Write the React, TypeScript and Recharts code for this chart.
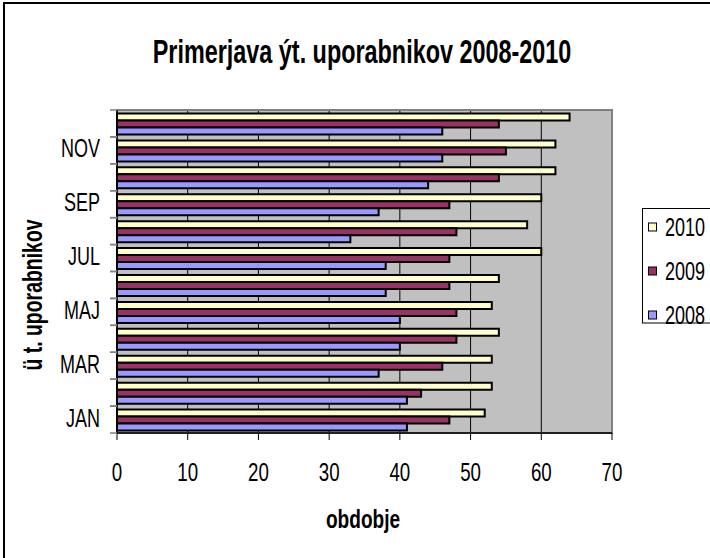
import React from 'react';
import { BarChart, Bar, XAxis, YAxis, CartesianGrid, ReferenceArea } from 'recharts';

const MONTHS = ['JAN', 'FEB', 'MAR', 'APR', 'MAJ', 'JUN', 'JUL', 'AVG', 'SEP', 'OKT', 'NOV', 'DEC'];
const Y2008 = [41, 41, 37, 40, 40, 38, 38, 33, 37, 44, 46, 46];
const Y2009 = [47, 43, 46, 48, 48, 47, 47, 48, 47, 54, 55, 54];
const Y2010 = [52, 53, 53, 54, 53, 54, 60, 58, 60, 62, 62, 64];
const YEARS = ['2010', '2009', '2008'];
const X_TICKS = [0, 10, 20, 30, 40, 50, 60, 70];
const TITLE = 'Primerjava ýt. uporabnikov 2008-2010';
const X_TITLE = 'obdobje';
const Y_TITLE = 'ü t. uporabnikov';

const COLORS: Record<string, string> = { '2010': '#FFFFCC', '2009': '#993366', '2008': '#9999FF' };

const data = MONTHS.map((month, i) => ({
  month,
  '2008': Y2008[i],
  '2009': Y2009[i],
  '2010': Y2010[i],
}));

const W = 710;
const H = 558;
const PLOT_H = 323;
const BAND = PLOT_H / MONTHS.length;
const SQ = 0.72; // the source font is strongly condensed
const FONT = '"Liberation Sans", Arial, sans-serif';

function Sq({ x, y, size, bold = false, anchor = 'middle', rotate = 0, children }: any) {
  return (
    <text
      transform={`translate(${x},${y}) rotate(${rotate}) scale(${SQ},1)`}
      fontFamily={FONT}
      fontSize={size}
      fontWeight={bold ? 'bold' : 'normal'}
      textAnchor={anchor}
      fill="#000"
    >
      {children}
    </text>
  );
}

function YTick(props: any) {
  const { x, y, payload } = props;
  const show = MONTHS.indexOf(payload.value) % 2 === 0;
  return (
    <g>
      <line x1={x} x2={x + 7} y1={y - BAND / 2} y2={y - BAND / 2} stroke="#808080" strokeWidth={1.5} />
      <line x1={x} x2={x + 7} y1={y + BAND / 2} y2={y + BAND / 2} stroke="#808080" strokeWidth={1.5} />
      {show && <Sq x={x - 10} y={y + 7} size={25} anchor="end">{payload.value}</Sq>}
    </g>
  );
}

function XTick(props: any) {
  const { x, y, payload } = props;
  return <Sq x={x} y={y + 41} size={26}>{payload.value}</Sq>;
}

export default function App() {
  return (
    <div style={{ position: 'absolute', left: 0, top: 0, width: W, height: H, overflow: 'hidden', background: '#fff' }}>
      <div
        style={{
          position: 'absolute',
          left: 3,
          top: 2,
          width: W,
          height: H,
          borderLeft: '2px solid #000',
          borderTop: '2px solid #000',
        }}
      />
      <div style={{ position: 'absolute', left: 0, top: 0 }}>
        <BarChart
          width={W}
          height={H}
          data={data}
          layout="vertical"
          margin={{ top: 110, right: 98, bottom: 65, left: 17 }}
          barCategoryGap="13%"
          barGap={0}
        >
          <CartesianGrid horizontal={false} stroke="#000" strokeWidth={1} fill="#C0C0C0" fillOpacity={1} />
          <ReferenceArea x1={0} x2={70} fill="none" stroke="#808080" strokeWidth={2} />
          <XAxis
            type="number"
            domain={[0, 70]}
            ticks={X_TICKS}
            height={60}
            tickSize={7}
            tickMargin={0}
            axisLine={{ stroke: '#000', strokeWidth: 1.5 }}
            tickLine={{ stroke: '#000' }}
            tick={<XTick />}
          />
          <YAxis
            type="category"
            dataKey="month"
            reversed
            width={100}
            interval={0}
            tickSize={7}
            tickMargin={0}
            axisLine={{ stroke: '#000', strokeWidth: 1.5 }}
            tickLine={false}
            tick={<YTick />}
          />
          {YEARS.map(year => (
            <Bar
              key={year}
              dataKey={year}
              fill={COLORS[year]}
              stroke="#000"
              strokeWidth={2}
              isAnimationActive={false}
            />
          ))}
        </BarChart>
      </div>
      <svg width={W} height={H} style={{ position: 'absolute', left: 0, top: 0, pointerEvents: 'none' }}>
        <Sq x={362} y={63} size={32.5} bold>{TITLE}</Sq>
        <Sq x={363} y={528} size={26.5} bold>{X_TITLE}</Sq>
        <Sq x={42} y={295} size={27} bold rotate={-90}>{Y_TITLE}</Sq>
        <rect x={642.5} y={208.5} width={100} height={114.5} fill="#fff" stroke="#000" strokeWidth={1} />
        {YEARS.map((year, i) => (
          <g key={year}>
            <rect x={648.5} y={223 + i * 44} width={8} height={8} fill={COLORS[year]} stroke="#000" strokeWidth={1} />
            <Sq x={665} y={236 + i * 44} size={25} anchor="start">{year}</Sq>
          </g>
        ))}
      </svg>
    </div>
  );
}
